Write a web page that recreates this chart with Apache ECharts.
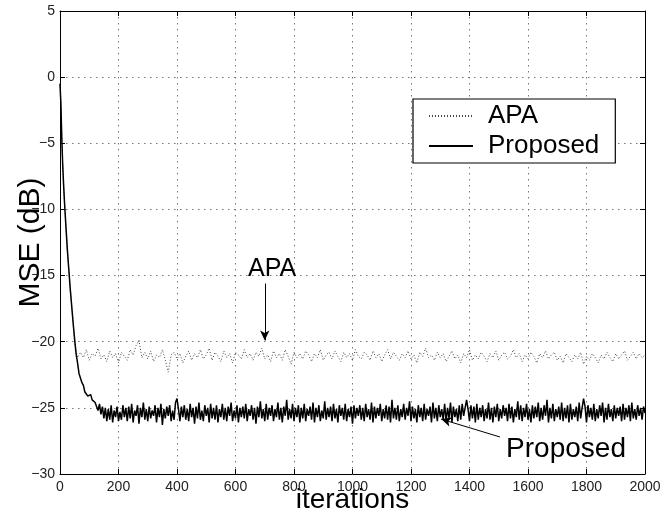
<!DOCTYPE html>
<html>
<head>
<meta charset="utf-8">
<script src="https://cdn.jsdelivr.net/npm/echarts@6/dist/echarts.min.js"></script>
<style>html,body{margin:0;padding:0;background:#fff;}#c{width:672px;height:513px;}</style>
</head>
<body>
<div id="c"></div>
<script>
// ---- data ----
const seriesNames = ['APA', 'Proposed'];
const xTicks = [0, 200, 400, 600, 800, 1000, 1200, 1400, 1600, 1800, 2000];
const yTicks = [5, 0, -5, -10, -15, -20, -25, -30];

// Proposed: transient (explicit iterations) + steady state (from 125, every 5 iterations)
const propHeadIter = [0, 3, 6, 9, 12, 15, 20, 25, 30, 35, 40, 45, 50, 55, 60, 65, 70, 75, 80, 85, 90, 95, 100, 105, 110, 115, 120];
const propHeadMSE = [-0.5, -2.0, -4.5, -6.5, -8.0, -9.3, -11.2, -13.0, -14.5, -16.0, -17.3, -18.6, -19.8, -20.9, -21.6, -22.4, -22.5, -23.1, -23.3, -23.8, -23.7, -24.1, -24.2, -24.0, -24.4, -24.5, -24.6];
const propTailStart = 125, propTailStep = 5;
const propTailMSE = [
-24.6,-25.2,-24.7,-25.5,-24.9,-25.8,-25.0,-26.0,-25.1,-25.9,-24.8,-26.1,-25.2,-25.7,-24.9,-26.0,-25.3,-25.9,-24.8,-25.7,
-25.0,-26.0,-24.9,-25.8,-24.7,-26.1,-25.2,-25.6,-24.8,-26.2,-25.0,-25.7,-24.6,-25.9,-25.1,-26.0,-24.9,-25.8,-25.2,-25.6,
-24.8,-26.1,-25.0,-25.7,-24.7,-26.3,-25.1,-25.8,-24.9,-25.6,-24.8,-26.0,-25.2,-25.9,-24.6,-24.3,-25.1,-26.0,-24.9,-25.7,
-24.8,-25.9,-25.1,-26.0,-24.7,-25.7,-25.0,-26.2,-24.9,-25.8,-24.6,-25.9,-25.2,-26.0,-24.8,-25.6,-25.0,-26.1,-24.7,-25.8,
-25.0,-25.9,-24.8,-26.1,-25.1,-25.7,-24.7,-25.9,-25.0,-26.0,-24.9,-25.6,-24.6,-26.0,-25.2,-25.8,-24.8,-26.1,-25.0,-25.7,
-24.9,-25.8,-24.7,-26.0,-25.1,-25.6,-24.8,-25.9,-25.0,-26.2,-24.9,-25.7,-24.5,-25.8,-25.1,-26.0,-24.7,-25.9,-25.0,-25.6,
-24.8,-26.0,-25.1,-25.7,-24.6,-25.9,-25.0,-26.1,-24.9,-25.6,-24.4,-25.9,-25.1,-25.8,-24.7,-26.0,-25.0,-25.7,-24.8,-26.1,
-25.0,-25.8,-24.7,-26.0,-25.1,-25.6,-24.9,-25.9,-24.6,-26.1,-25.0,-25.7,-24.8,-26.0,-25.2,-25.8,-24.5,-25.9,-25.0,-25.7,
-24.9,-26.0,-24.7,-25.8,-25.1,-26.1,-24.8,-25.6,-25.0,-25.9,-24.7,-26.0,-25.1,-25.7,-24.9,-26.2,-24.8,-25.8,-25.0,-25.6,
-24.8,-25.9,-25.0,-26.0,-24.7,-25.7,-25.1,-25.9,-24.6,-26.1,-24.9,-25.8,-25.0,-25.6,-24.7,-26.0,-25.1,-25.8,-24.8,-25.9,
-24.9,-26.1,-24.4,-25.8,-25.0,-25.9,-24.8,-26.0,-25.1,-25.7,-24.7,-25.9,-25.0,-25.6,-24.5,-26.0,-24.9,-25.8,-25.1,-26.1,
-24.8,-25.7,-25.0,-26.0,-24.7,-25.9,-25.1,-25.6,-24.9,-26.1,-24.6,-25.8,-25.0,-26.0,-24.8,-25.7,-25.1,-25.9,-24.7,-26.0,
-25.0,-25.8,-24.6,-26.1,-24.9,-25.7,-25.1,-26.0,-24.8,-25.9,-24.7,-25.6,-25.0,-24.4,-25.1,-26.0,-24.8,-25.8,-24.9,-26.1,
-24.7,-25.9,-25.0,-25.7,-24.8,-26.0,-25.1,-25.8,-24.6,-25.9,-25.0,-26.1,-24.9,-25.7,-24.7,-26.0,-25.1,-25.8,-24.8,-25.6,
-25.0,-26.0,-24.7,-25.8,-24.9,-26.1,-25.1,-25.7,-24.5,-25.9,-24.8,-26.0,-25.0,-25.7,-24.7,-25.9,-25.1,-26.1,-24.8,-25.8,
-24.9,-25.7,-24.6,-26.0,-25.0,-25.9,-24.8,-25.6,-24.4,-26.1,-25.0,-25.8,-24.7,-26.0,-25.1,-25.7,-24.9,-25.9,-24.6,-26.0,
-25.0,-25.8,-24.8,-26.1,-24.7,-25.9,-25.1,-25.7,-24.9,-26.0,-24.6,-25.8,-25.0,-24.3,-24.9,-26.1,-24.8,-25.7,-25.0,-25.9,
-24.7,-26.0,-25.1,-25.8,-24.8,-25.6,-24.6,-26.1,-25.0,-25.9,-24.7,-25.7,-25.1,-26.0,-24.8,-25.8,-25.0,-25.6,-24.9,-26.0,
-24.7,-25.9,-25.0,-25.7,-24.8,-26.0,-24.6,-25.8,-25.1,-25.9,-24.8,-25.6,-25.0,-25.9,-24.9,-25.4
];

// APA: transient (explicit iterations) + steady state (from 70, every 10 iterations)
const apaHeadIter = [0, 3, 6, 9, 12, 15, 20, 25, 30, 35, 40, 45, 50, 55, 60];
const apaHeadMSE = [-0.5, -2.0, -4.5, -6.5, -8.0, -9.3, -11.2, -13.0, -14.5, -16.0, -17.3, -18.6, -20.1, -20.7, -21.2];
const apaTailStart = 70, apaTailStep = 10;
const apaTailMSE = [
-20.8,-21.2,-20.6,-21.4,-20.9,-21.1,-20.5,-21.3,-21.0,-21.5,-20.7,-21.2,-20.9,-21.6,-20.8,-21.1,-21.4,-20.6,-21.0,-20.3,
-19.9,-21.2,-20.8,-21.3,-20.7,-21.5,-21.0,-21.2,-20.6,-21.4,-22.3,-21.0,-20.8,-21.3,-20.9,-21.6,-21.1,-20.7,-21.4,-20.9,
-21.2,-20.6,-21.3,-21.0,-20.5,-21.4,-20.8,-21.1,-21.5,-20.7,-21.2,-20.9,-21.6,-20.8,-21.0,-21.3,-20.6,-21.2,-20.9,-21.4,
-20.8,-21.1,-20.5,-21.3,-21.0,-21.5,-20.7,-21.2,-20.9,-21.4,-20.6,-21.1,-21.7,-20.8,-21.2,-20.9,-21.3,-20.7,-21.0,-21.5,
-20.9,-21.2,-20.6,-21.4,-21.0,-20.8,-21.3,-20.7,-21.1,-21.5,-20.8,-21.2,-20.9,-21.4,-20.6,-21.1,-21.3,-20.8,-21.0,-21.4,
-20.7,-21.2,-20.9,-21.5,-21.0,-20.6,-21.3,-20.8,-21.1,-21.4,-20.9,-21.2,-20.7,-21.3,-21.0,-21.6,-20.8,-21.1,-20.5,-21.2,
-21.0,-21.4,-20.8,-21.2,-20.9,-21.5,-21.1,-20.7,-21.3,-21.0,-21.6,-20.9,-21.2,-20.6,-21.4,-21.0,-21.3,-20.8,-21.1,-21.5,
-20.9,-21.2,-20.7,-21.4,-21.0,-20.8,-21.3,-21.1,-20.6,-21.2,-20.9,-21.5,-21.0,-21.3,-20.8,-21.1,-21.6,-20.9,-21.2,-20.7,
-21.3,-21.0,-20.8,-21.4,-21.1,-21.6,-20.9,-21.2,-21.5,-21.0,-21.3,-20.8,-21.7,-21.1,-21.4,-20.9,-21.2,-21.6,-21.0,-21.3,
-20.8,-21.2,-21.5,-20.9,-21.3,-21.0,-20.7,-21.4,-21.1,-20.8,-21.3,-20.9,-21.2,-21.0
];

// annotations (data coordinates)
const apaArrow = [[700, -15.6], [700, -19.9]];
const apaLabel = [725, -14.5];
const propArrow = [[1504, -27.2], [1303, -25.85]];
const propLabel = [1730, -28.1];

// ---- build ----
function buildSeries(headX, headY, start, step, tail) {
  const out = headX.map((x, i) => [x, headY[i]]);
  tail.forEach((v, i) => out.push([start + step * i, v]));
  return out;
}
const propData = buildSeries(propHeadIter, propHeadMSE, propTailStart, propTailStep, propTailMSE);
const apaData = buildSeries(apaHeadIter, apaHeadMSE, apaTailStart, apaTailStep, apaTailMSE);

const FONT = 'Liberation Sans, Arial, Helvetica, sans-serif';
const minus = v => String(v).replace('-', '\u2212');
const gridLine = { show: true, lineStyle: { color: '#777', type: [1.5, 4.5], width: 1 } };

const chart = echarts.init(document.getElementById('c'), null, { renderer: 'canvas' });
chart.setOption({
  animation: false,
  backgroundColor: '#fff',
  grid: { left: 60, right: 27, top: 11, bottom: 39, show: false, containLabel: false, outerBoundsMode: 'none' },
  legend: {
    data: seriesNames,
    orient: 'vertical',
    left: 413, top: 99,
    backgroundColor: '#fff',
    borderColor: '#000', borderWidth: 1.2,
    padding: [4, 16, 4, 15],
    itemWidth: 44, itemHeight: 14, itemGap: 4,
    itemStyle: { opacity: 0 },
    textStyle: { fontFamily: FONT, fontSize: 26, color: '#000', padding: [0, 0, 0, 10] }
  },
  xAxis: [{
    type: 'value', min: 0, max: 2000, interval: 200,
    name: 'iterations', nameLocation: 'middle', nameGap: 12, nameMoveOverlap: false,
    nameTextStyle: { fontFamily: FONT, fontSize: 28, color: '#000' },
    axisLine: { show: true, onZero: false, lineStyle: { color: '#000', width: 1 } },
    axisTick: { show: true, inside: true, length: 5, lineStyle: { color: '#000' } },
    axisLabel: { fontFamily: FONT, fontSize: 14, color: '#222', margin: 6, formatter: v => String(v) },
    splitLine: gridLine
  }, {
    type: 'value', min: 0, max: 2000, interval: 200, position: 'top',
    axisLine: { show: true, onZero: false, lineStyle: { color: '#000', width: 1 } },
    axisTick: { show: true, inside: true, length: 5, lineStyle: { color: '#000' } },
    axisLabel: { show: false }, splitLine: { show: false }
  }],
  yAxis: [{
    type: 'value', min: -30, max: 5, interval: 5,
    name: 'MSE (dB)', nameLocation: 'middle', nameGap: 14, nameRotate: 90, nameMoveOverlap: false,
    nameTextStyle: { fontFamily: FONT, fontSize: 30, color: '#000' },
    axisLine: { show: true, onZero: false, lineStyle: { color: '#000', width: 1 } },
    axisTick: { show: true, inside: true, length: 5, lineStyle: { color: '#000' } },
    axisLabel: { fontFamily: FONT, fontSize: 14, color: '#222', margin: 5, formatter: minus },
    splitLine: gridLine
  }, {
    type: 'value', min: -30, max: 5, interval: 5, position: 'right',
    axisLine: { show: true, onZero: false, lineStyle: { color: '#000', width: 1 } },
    axisTick: { show: true, inside: true, length: 5, lineStyle: { color: '#000' } },
    axisLabel: { show: false }, splitLine: { show: false }
  }],
  series: [{
    name: 'APA', type: 'line', data: apaData, symbol: 'none',
    xAxisIndex: 0, yAxisIndex: 0,
    itemStyle: { color: '#444' },
    lineStyle: { color: '#444', width: 1, type: [1, 2] },
    z: 2
  }, {
    name: 'Proposed', type: 'line', data: propData, symbol: 'none',
    xAxisIndex: 0, yAxisIndex: 0,
    itemStyle: { color: '#000' },
    lineStyle: { color: '#000', width: 1.5 },
    z: 3,
    markLine: {
      silent: true, symbol: ['none', 'arrow'], symbolSize: [7, 10],
      label: { show: false },
      lineStyle: { color: '#000', width: 1, type: 'solid' },
      data: [
        [{ coord: apaArrow[0] }, { coord: apaArrow[1] }],
        [{ coord: propArrow[0] }, { coord: propArrow[1] }]
      ]
    },
    markPoint: {
      silent: true, symbol: 'circle', symbolSize: 1,
      itemStyle: { color: 'rgba(0,0,0,0)' },
      label: { show: true, position: 'inside', formatter: '{b}', fontFamily: FONT, color: '#000' },
      data: [
        { name: 'APA', coord: apaLabel, label: { fontSize: 25 } },
        { name: 'Proposed', coord: propLabel, label: { fontSize: 28 } }
      ]
    }
  }]
});
</script>
</body>
</html>
